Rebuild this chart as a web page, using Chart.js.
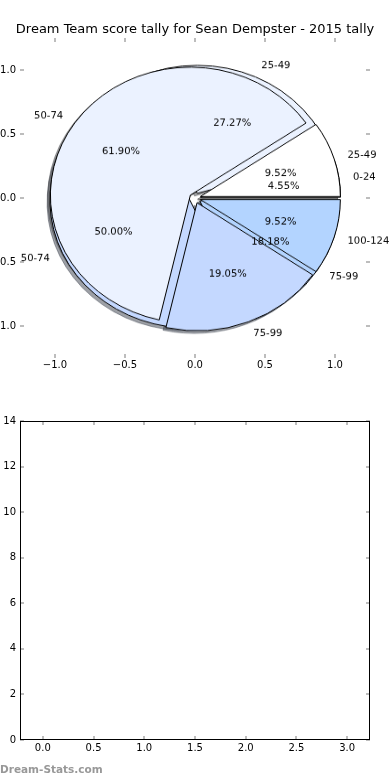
<!DOCTYPE html>
<html>
<head>
<meta charset="utf-8">
<script src="https://cdn.jsdelivr.net/npm/chart.js@4.4.1/dist/chart.umd.min.js"></script>
<style>
  html, body { margin: 0; padding: 0; background: #fff; }
  body { width: 390px; height: 780px; position: relative; overflow: hidden; }
  canvas { position: absolute; left: 0; }
  #pieWrap { position: absolute; left: 0; top: 3px; width: 390px; height: 390px;
             transform: scaleY(0.9143); transform-origin: 50% 50%; }
  #watermark { position: absolute; left: 0; top: 763px; font: bold 10.5px "DejaVu Sans", sans-serif;
               line-height: 12px; color: #989898; white-space: nowrap; }
</style>
</head>
<body>
<canvas id="topAxes" width="390" height="390" style="top:0"></canvas>
<div id="pieWrap"><canvas id="pie" width="390" height="390" style="top:0"></canvas></div>
<canvas id="bottomAxes" width="390" height="390" style="top:390px"></canvas>
<div id="watermark">Dream-Stats.com</div>
<script>
const titleText = 'Dream Team score tally for Sean Dempster - 2015 tally';

// first tally (22 rounds) - drawn underneath
const rangesA = ['0-24', '25-49', '50-74', '75-99'];
const countsA = [1, 6, 11, 4];
// second tally (21 rounds) - drawn on top
const rangesB = ['25-49', '50-74', '75-99', '100-124'];
const countsB = [2, 13, 4, 2];

const sliceColors = ['#ffffff', '#ebf2ff', '#c4d8ff', '#b3d4ff'];
const explodeA = [0.04, 0.04, 0.04, 0.04];
const explodeB = [0.04, 0.04, 0.04, 0.04];

const pieTicks = [-1, -0.5, 0, 0.5, 1];
const lowerXTicks = [0, 0.5, 1, 1.5, 2, 2.5, 3];
const lowerYTicks = [0, 2, 4, 6, 8, 10, 12, 14];

const R = 140;                 // pixels per data unit across
const SQUASH = 128 / 140;      // vertical scale of the pie axes
const FONT = { family: 'DejaVu Sans', size: 10 };

function fmt1(v) {
    return (v < 0 ? '\u2212' : '') + Math.abs(v).toFixed(1);
}

// matplotlib style ticks pointing inwards on every side
const innerTicks = {
    id: 'innerTicks',
    afterDraw(chart, args, opts) {
        const { ctx, chartArea: a } = chart;
        const x = chart.scales.x, y = chart.scales.y;
        ctx.save();
        ctx.strokeStyle = '#bdbdbd';
        ctx.lineWidth = 2;
        ctx.beginPath();
        x.ticks.forEach(t => {
            const px = Math.round(x.getPixelForValue(t.value));
            ctx.moveTo(px, a.top); ctx.lineTo(px, a.top + 4);
            ctx.moveTo(px, a.bottom); ctx.lineTo(px, a.bottom - 4);
        });
        y.ticks.forEach(t => {
            const py = Math.round(y.getPixelForValue(t.value));
            ctx.moveTo(a.left, py); ctx.lineTo(a.left + 4, py);
            ctx.moveTo(a.right, py); ctx.lineTo(a.right - 4, py);
        });
        ctx.stroke();
        if (opts.frame) {
            ctx.strokeStyle = '#000';
            ctx.lineWidth = 1;
            ctx.strokeRect(Math.round(a.left) + 0.5, Math.round(a.top) + 0.5,
                Math.round(a.right - a.left) - 1, Math.round(a.bottom - a.top) - 1);
        }
        ctx.restore();
    }
};

function axesOptions(xMin, xMax, xTicks, xFmt, yMin, yMax, yTicks, yFmt, xPad) {
    return {
        responsive: false,
        animation: false,
        events: [],
        scales: {
            x: {
                type: 'linear', position: 'bottom', min: xMin, max: xMax,
                afterBuildTicks: s => { s.ticks = xTicks.map(v => ({ value: v })); },
                afterFit: s => { s.height = 390 - 358; },
                ticks: { callback: xFmt, font: FONT, color: '#000', padding: xPad, maxRotation: 0, autoSkip: false },
                grid: { display: false, drawTicks: false },
                border: { display: false }
            },
            y: {
                type: 'linear', position: 'left', min: yMin, max: yMax,
                afterBuildTicks: s => { s.ticks = yTicks.map(v => ({ value: v })); },
                afterFit: s => { s.width = 20; },
                ticks: { callback: yFmt, font: FONT, color: '#000', padding: 4, autoSkip: false },
                grid: { display: false, drawTicks: false },
                border: { display: false }
            },
            y2: {
                type: 'linear', position: 'right', min: yMin, max: yMax,
                afterFit: s => { s.width = 20; },
                ticks: { display: false },
                grid: { display: false, drawTicks: false },
                border: { display: false }
            }
        },
        plugins: { legend: { display: false }, tooltip: { enabled: false } }
    };
}

// upper axes (holds the pie)
const topOpts = axesOptions(-1.25, 1.25, pieTicks, fmt1, -1.25, 1.25, pieTicks, fmt1, 1);
topOpts.plugins.title = {
    display: true, text: titleText, color: '#000',
    font: { family: 'DejaVu Sans', size: 13, weight: 'normal' },
    padding: { top: 22, bottom: 0.4 }
};
topOpts.plugins.innerTicks = { frame: false };
new Chart(document.getElementById('topAxes'), {
    type: 'scatter',
    data: { datasets: [{ data: [] }] },
    options: topOpts,
    plugins: [innerTicks]
});

// two pies drawn over each other, with shadows and exploded wedges
function shadowOf(hex) {
    const n = parseInt(hex.slice(1), 16);
    const r = Math.round(((n >> 16) & 255) * 0.3), g = Math.round(((n >> 8) & 255) * 0.3), b = Math.round((n & 255) * 0.3);
    return `rgba(${r},${g},${b},0.5)`;
}

function putText(ctx, txt, px, py, align) {
    ctx.save();
    ctx.translate(px, py);
    ctx.scale(1, 1 / SQUASH);
    ctx.textAlign = align;
    ctx.textBaseline = 'middle';
    ctx.fillText(txt, 0, 0);
    ctx.restore();
}

const pieDraw = {
    id: 'pieDraw',
    beforeDatasetsDraw(chart) {
        const ctx = chart.ctx;
        const sets = chart.data.datasets;
        const metas = sets.map((d, i) => chart.getDatasetMeta(i));

        metas.forEach((meta, d) => meta.data.forEach((arc, i) => {
            arc.innerRadius = 0;
            arc.outerRadius = R;
        }));

        // shadows sit below every wedge
        metas.forEach((meta, d) => meta.data.forEach((arc, i) => {
            const mid = (arc.startAngle + arc.endAngle) / 2;
            const e = sets[d].explode[i] * R;
            const col = shadowOf(sets[d].backgroundColor[i]);
            ctx.save();
            ctx.translate(Math.cos(mid) * e - 0.02 * R, Math.sin(mid) * e + 0.02 * R);
            ctx.beginPath();
            ctx.moveTo(arc.x, arc.y);
            ctx.arc(arc.x, arc.y, R, arc.startAngle, arc.endAngle);
            ctx.closePath();
            ctx.fillStyle = col;
            ctx.fill();
            ctx.strokeStyle = col;
            ctx.lineWidth = 1;
            ctx.stroke();
            ctx.restore();
        }));

        metas.forEach((meta, d) => meta.data.forEach((arc, i) => {
            const mid = (arc.startAngle + arc.endAngle) / 2;
            const e = sets[d].explode[i] * R;
            ctx.save();
            ctx.translate(Math.cos(mid) * e, Math.sin(mid) * e);
            arc.draw(ctx);
            ctx.restore();
        }));

        // range labels outside, percentages inside
        ctx.save();
        ctx.fillStyle = '#000';
        ctx.font = '10px "DejaVu Sans"';
        metas.forEach((meta, d) => {
            const vals = sets[d].data;
            const total = vals.reduce((s, v) => s + v, 0);
            meta.data.forEach((arc, i) => {
                const mid = (arc.startAngle + arc.endAngle) / 2;
                const e = sets[d].explode[i];
                const c = Math.cos(mid), s = Math.sin(mid);
                putText(ctx, sets[d].ranges[i], arc.x + (e + 1.1) * R * c, arc.y + (e + 1.1) * R * s, c > 0 ? 'left' : 'right');
                const pct = (vals[i] / total * 100).toFixed(2) + '%';
                putText(ctx, pct, arc.x + (e + 0.6) * R * c, arc.y + (e + 0.6) * R * s, 'center');
            });
        });
        ctx.restore();
        return false;
    }
};

// chart.js runs clockwise, matplotlib counter-clockwise from 3 o'clock: feed the wedges reversed
function pieSet(ranges, counts, explode) {
    return {
        data: counts.slice().reverse(),
        ranges: ranges.slice().reverse(),
        explode: explode.slice().reverse(),
        backgroundColor: sliceColors.slice(0, counts.length).reverse(),
        borderColor: '#000',
        borderWidth: 1,
        borderJoinStyle: 'miter',
        offset: 0,
        hoverOffset: 0
    };
}

new Chart(document.getElementById('pie'), {
    type: 'pie',
    data: {
        labels: ['a', 'b', 'c', 'd'],
        datasets: [pieSet(rangesA, countsA, explodeA), pieSet(rangesB, countsB, explodeB)]
    },
    options: {
        responsive: false,
        animation: false,
        events: [],
        rotation: 90,
        radius: R,
        layout: { padding: 0 },
        plugins: { legend: { display: false }, tooltip: { enabled: false } }
    },
    plugins: [pieDraw]
});

// lower, empty axes
const lowOpts = axesOptions(-0.225, 3.225, lowerXTicks, fmt1, 0, 14, lowerYTicks, v => String(v), 2);
lowOpts.layout = { padding: { top: 31 } };
lowOpts.scales.x.afterFit = s => { s.height = 390 - 350; };
lowOpts.plugins.innerTicks = { frame: true };
new Chart(document.getElementById('bottomAxes'), {
    type: 'scatter',
    data: { datasets: [{ data: [] }] },
    options: lowOpts,
    plugins: [innerTicks]
});
</script>
</body>
</html>
